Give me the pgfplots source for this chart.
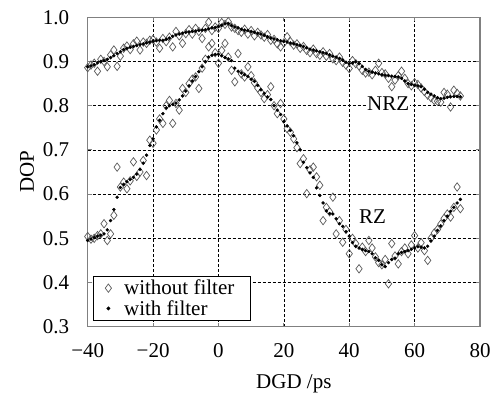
\documentclass[border=0pt]{standalone}
\usepackage{pgfplots}
\pgfplotsset{compat=1.18}
\usepackage{pgfplotstable}
\usepackage{fontspec}
\setmainfont{Liberation Serif}
\newcommand{\fs}{\fontsize{21}{24}\selectfont}

\pgfplotstableread{
x y
-40 0.886
-39 0.892
-38 0.896
-37 0.878
-36 0.905
-35 0.900
-34 0.888
-33 0.915
-32 0.926
-31 0.889
-30 0.912
-29 0.930
-28 0.935
-27 0.927
-26 0.940
-25 0.946
-24 0.926
-23 0.944
-22 0.941
-21 0.948
-20 0.950
-19 0.944
-18 0.930
-17 0.952
-16 0.945
-15 0.955
-14 0.933
-13 0.968
-12 0.958
-11 0.941
-10 0.963
-9 0.972
-8 0.962
-7 0.975
-6 0.968
-5 0.952
-4 0.975
-3 0.989
-2 0.970
-1 0.978
0 0.975
1 0.988
2 0.984
3 0.990
4 0.978
5 0.975
6 0.970
7 0.966
8 0.973
9 0.962
10 0.970
11 0.958
12 0.966
13 0.960
14 0.955
15 0.961
16 0.948
17 0.950
18 0.940
19 0.933
20 0.942
21 0.956
22 0.945
23 0.937
24 0.940
25 0.930
26 0.934
27 0.925
28 0.920
29 0.928
30 0.918
31 0.914
32 0.922
33 0.912
34 0.918
35 0.906
36 0.902
37 0.910
38 0.898
39 0.892
40 0.884
41 0.902
42 0.895
43 0.890
44 0.880
45 0.874
46 0.876
47 0.870
48 0.880
49 0.896
50 0.875
51 0.872
52 0.862
53 0.843
54 0.858
55 0.868
56 0.878
57 0.862
58 0.850
59 0.845
60 0.852
61 0.848
62 0.840
63 0.832
64 0.824
65 0.818
66 0.812
67 0.810
68 0.808
69 0.830
70 0.826
71 0.797
72 0.835
73 0.828
74 0.822
}\nrzwo

\pgfplotstableread{
x y
-40 0.504
-39 0.498
-38 0.500
-37 0.506
-36 0.510
-35 0.533
-34 0.495
-33 0.510
-32 0.552
-31 0.661
-30 0.616
-29 0.627
-28 0.612
-27 0.630
-26 0.673
-25 0.640
-24 0.650
-23 0.676
-22 0.642
-21 0.722
-20 0.715
-19 0.745
-18 0.770
-17 0.760
-16 0.800
-15 0.812
-14 0.760
-13 0.805
-12 0.790
-11 0.839
-10 0.830
-9 0.850
-8 0.860
-7 0.865
-6 0.839
-5 0.885
-4 0.905
-3 0.933
-2 0.941
-1 0.920
0 0.896
1 0.925
2 0.941
3 0.910
4 0.880
5 0.854
6 0.918
7 0.872
8 0.865
9 0.888
10 0.868
11 0.852
12 0.840
13 0.830
14 0.816
15 0.825
16 0.843
17 0.800
18 0.782
19 0.805
20 0.770
21 0.748
22 0.740
23 0.725
24 0.705
25 0.669
26 0.680
27 0.601
28 0.655
29 0.661
30 0.639
31 0.620
32 0.540
33 0.570
34 0.560
35 0.593
36 0.510
37 0.540
38 0.491
39 0.520
40 0.465
41 0.500
42 0.488
43 0.431
44 0.480
45 0.470
46 0.495
47 0.478
48 0.458
49 0.445
50 0.440
51 0.452
52 0.397
53 0.488
54 0.460
55 0.442
56 0.470
57 0.478
58 0.465
59 0.485
60 0.506
61 0.478
62 0.490
63 0.472
64 0.450
65 0.500
66 0.512
67 0.520
68 0.532
69 0.545
70 0.555
71 0.548
72 0.570
73 0.616
74 0.567
}\rzwo

\pgfplotstableread{
x y
-40 0.888
-39 0.890
-38 0.893
-37 0.897
-36 0.900
-35 0.902
-34 0.905
-33 0.909
-32 0.913
-31 0.918
-30 0.922
-29 0.927
-28 0.930
-27 0.932
-26 0.934
-25 0.936
-24 0.938
-23 0.940
-22 0.942
-21 0.944
-20 0.946
-19 0.947
-18 0.948
-17 0.948
-16 0.950
-15 0.953
-14 0.957
-13 0.960
-12 0.962
-11 0.964
-10 0.966
-9 0.967
-8 0.968
-7 0.969
-6 0.970
-5 0.971
-4 0.972
-3 0.974
-2 0.976
-1 0.977
0 0.979
1 0.982
2 0.985
3 0.986
4 0.981
5 0.978
6 0.976
7 0.973
8 0.971
9 0.970
10 0.968
11 0.966
12 0.964
13 0.962
14 0.959
15 0.956
16 0.953
17 0.951
18 0.949
19 0.947
20 0.945
21 0.944
22 0.942
23 0.940
24 0.938
25 0.936
26 0.934
27 0.931
28 0.928
29 0.926
30 0.924
31 0.922
32 0.920
33 0.918
34 0.915
35 0.912
36 0.910
37 0.907
38 0.903
39 0.898
40 0.895
41 0.897
42 0.899
43 0.895
44 0.889
45 0.882
46 0.878
47 0.876
48 0.874
49 0.872
50 0.870
51 0.869
52 0.868
53 0.867
54 0.866
55 0.865
56 0.862
57 0.856
58 0.850
59 0.848
60 0.846
61 0.845
62 0.843
63 0.837
64 0.830
65 0.826
66 0.822
67 0.818
68 0.816
69 0.817
70 0.819
71 0.820
72 0.821
73 0.821
74 0.820
}\nrzw

\pgfplotstableread{
x y
-40 0.495
-39 0.498
-38 0.502
-37 0.505
-36 0.507
-35 0.510
-34 0.519
-33 0.540
-32 0.565
-31 0.593
-30 0.615
-29 0.622
-28 0.628
-27 0.633
-26 0.638
-25 0.645
-24 0.656
-23 0.670
-22 0.688
-21 0.710
-20 0.725
-19 0.752
-18 0.767
-17 0.782
-16 0.795
-15 0.800
-14 0.803
-13 0.806
-12 0.813
-11 0.822
-10 0.833
-9 0.845
-8 0.856
-7 0.866
-6 0.877
-5 0.888
-4 0.900
-3 0.910
-2 0.914
-1 0.916
0 0.916
1 0.913
2 0.909
3 0.906
4 0.902
5 0.885
6 0.878
7 0.874
8 0.870
9 0.866
10 0.860
11 0.855
12 0.846
13 0.836
14 0.828
15 0.820
16 0.814
17 0.800
18 0.790
19 0.780
20 0.764
21 0.754
22 0.744
23 0.732
24 0.716
25 0.700
26 0.672
27 0.660
28 0.648
29 0.638
30 0.614
31 0.597
32 0.580
33 0.562
34 0.556
35 0.555
36 0.544
37 0.533
38 0.527
39 0.515
40 0.505
41 0.490
42 0.482
43 0.478
44 0.475
45 0.472
46 0.470
47 0.465
48 0.456
49 0.450
50 0.440
51 0.436
52 0.445
53 0.452
54 0.455
55 0.465
56 0.468
57 0.470
58 0.472
59 0.475
60 0.478
61 0.481
62 0.480
63 0.478
64 0.482
65 0.494
66 0.505
67 0.518
68 0.528
69 0.540
70 0.550
71 0.561
72 0.570
73 0.580
74 0.588
}\rzw

\begin{document}
\begin{tikzpicture}
\begin{axis}[
  width=392.3pt, height=309.4pt, scale only axis,
  xmin=-40, xmax=80, ymin=0.3, ymax=1.0,
  xtick={-40,-20,0,20,40,60,80},
  xticklabels={−40,−20,0,20,40,60,80},
  ytick={0.3,0.4,0.5,0.6,0.7,0.8,0.9,1.0},
  yticklabels={0.3,0.4,0.5,0.6,0.7,0.8,0.9,1.0},
  tick label style={font=\fs, inner sep=0pt},
  xticklabel shift=16.7pt,
  yticklabel shift=18.4pt,
  tick align=inside, major tick length=4pt,
  tick style={gray, line width=0.8pt},
  grid=major,
  grid style={black, line width=0.7pt, dash pattern=on 3pt off 2pt},
  axis line style={gray, line width=1.4pt},
  xlabel={DGD /ps}, ylabel={DOP},
  xlabel style={font=\fs, at={(axis description cs:0.5,0)}, anchor=north, inner sep=0pt, yshift=-48pt, xshift=10pt},
  ylabel style={font=\fs, at={(axis description cs:0,0.5)}, anchor=center, inner sep=0pt, yshift=60.7pt},
  legend cell align=left,
  legend style={at={(axis description cs:0,0)}, anchor=south west, xshift=5pt, yshift=5.7pt,
    font=\fs, draw=black, line width=0.8pt, fill=white, inner xsep=3pt, inner ysep=2pt,
    nodes={inner sep=2pt, text depth=0.15em}},
  clip=false,
]
\addplot[only marks, mark=diamond, mark size=4.2pt, mark options={draw=black!65, line width=0.7pt, fill=none},
  legend image code/.code={\path[draw=none,fill=none] (0pt,-2pt) rectangle (26pt,2pt); \draw plot coordinates {(12.3pt,0pt)};}] table[x=x,y=y] {\nrzwo};
\addlegendentry{\makebox[121pt][l]{without filter}}
\addplot[only marks, mark=diamond, mark size=4.2pt, mark options={draw=black!65, line width=0.7pt, fill=none}, forget plot] table[x=x,y=y] {\rzwo};
\addplot[only marks, mark=*, mark size=1.5pt, mark options={draw=black, fill=black},
  legend image code/.code={\path[draw=none,fill=none] (0pt,-2pt) rectangle (26pt,2pt); \draw plot coordinates {(12.3pt,0pt)};}] table[x=x,y=y] {\nrzw};
\addlegendentry{with filter}
\addplot[only marks, mark=*, mark size=1.5pt, mark options={draw=black, fill=black}, forget plot] table[x=x,y=y] {\rzw};
\node[fill=white, inner sep=1pt, font=\fs] at (axis cs:51.9,0.805) {NRZ};
\node[fill=white, inner sep=1pt, font=\fs] at (axis cs:47.1,0.548) {RZ};
\end{axis}
\path (current axis.south west) ++(-87.7pt,-66.3pt) coordinate (bl);
\path (current axis.north east) ++(17pt,17.3pt) coordinate (tr);
\pgfresetboundingbox
\path[use as bounding box] (bl) rectangle (tr);
\end{tikzpicture}
\end{document}
